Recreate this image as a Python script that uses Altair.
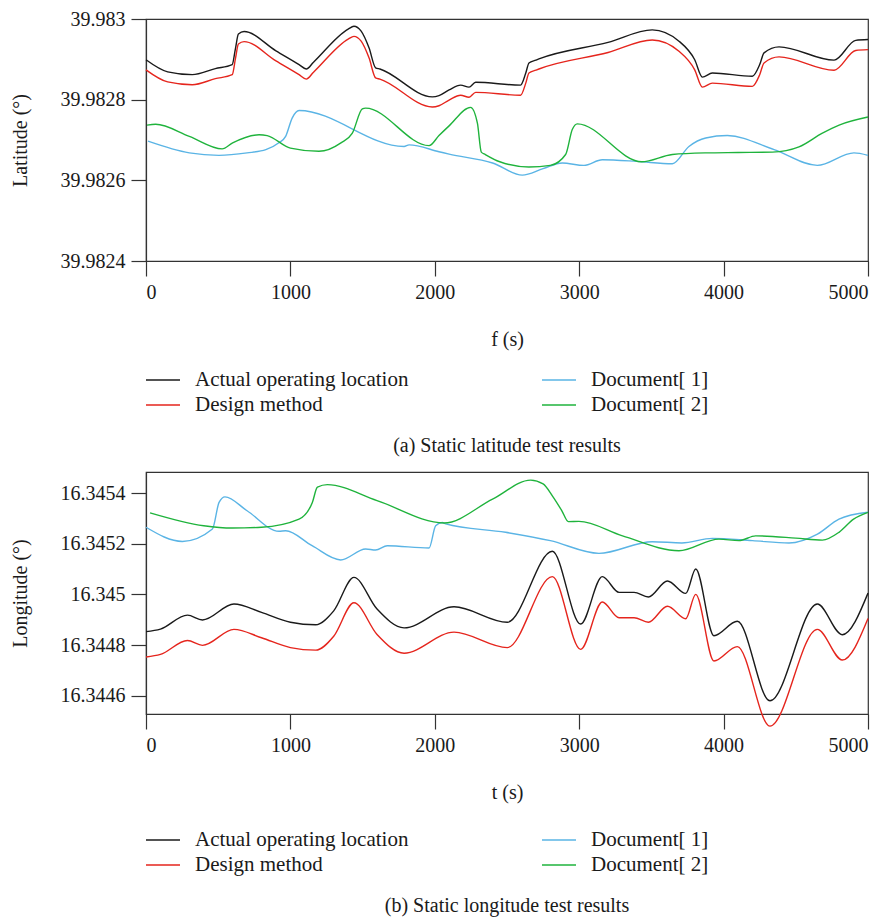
import altair as alt
import pandas as pd

FONT = "Liberation Serif"

SERIES = ["Actual operating location", "Design method", "Document[ 1]", "Document[ 2]"]
LEGEND_ORDER = ["Actual operating location", "Document[ 1]", "Design method", "Document[ 2]"]
COLORS = {"Actual operating location": "#1a1a1a", "Design method": "#e5251d",
          "Document[ 1]": "#5ab4e5", "Document[ 2]": "#1fb33c"}

# ---------------- (a) latitude ----------------
LAT_ACT_T = [0, 150, 320, 480, 597, 620, 640, 679, 900, 1060, 1110, 1160, 1400, 1440, 1490,
             1545, 1590, 1620, 1983, 2029, 2099, 2179, 2237, 2283, 2594, 2630, 2652, 2700,
             2721, 3200, 3506, 3691, 3800, 3853, 3922, 4199, 4250, 4280, 4384, 4765, 4915, 5000]
LAT_ACT_V = [39.982899, 39.982869, 39.982862, 39.982877, 39.982887, 39.982928, 39.982963,
             39.982969, 39.982921, 39.982887, 39.982876, 39.982893, 39.982975, 39.982982,
             39.982970, 39.982928, 39.982879, 39.982876, 39.982807, 39.982810, 39.982824,
             39.982836, 39.982831, 39.982843, 39.982836, 39.982866, 39.982891, 39.982898,
             39.982901, 39.982942, 39.982973, 39.982945, 39.982899, 39.982856, 39.982866,
             39.982858, 39.982887, 39.982916, 39.982931, 39.982898, 39.982947, 39.982949]
LAT_DES_T = LAT_ACT_T
LAT_DES_V = [39.982874, 39.982844, 39.982837, 39.982852, 39.982862, 39.982903, 39.982938,
             39.982944, 39.982896, 39.982862, 39.982851, 39.982868, 39.982950, 39.982957,
             39.982945, 39.982903, 39.982854, 39.982851, 39.982782, 39.982785, 39.982799,
             39.982811, 39.982806, 39.982818, 39.982811, 39.982841, 39.982866, 39.982873,
             39.982876, 39.982917, 39.982948, 39.982920, 39.982874, 39.982831, 39.982841,
             39.982833, 39.982862, 39.982891, 39.982906, 39.982873, 39.982922, 39.982924]
LAT_D1_T = [14, 300, 505, 700, 830, 920, 967, 1013, 1060, 1787, 1822, 2029, 2099, 2400, 2606,
            2750, 2883, 3033, 3160, 3400, 3645, 3760, 3876, 4026, 4350, 4649, 4903, 5000]
LAT_D1_V = [39.982697, 39.982668, 39.982662, 39.982668, 39.982676, 39.982693, 39.982709,
            39.982755, 39.982773, 39.982684, 39.982688, 39.982671, 39.982665, 39.982643,
            39.982613, 39.982629, 39.982643, 39.982637, 39.982651, 39.982647, 39.982641,
            39.982684, 39.982705, 39.982711, 39.982676, 39.982637, 39.982668, 39.982662]
LAT_D2_T = [7, 67, 300, 527, 600, 783, 839, 1000, 1198, 1350, 1429, 1498, 1521, 1960, 2029,
            2099, 2248, 2295, 2322, 2350, 2450, 2652, 2800, 2906, 2952, 2987, 3433, 3645,
            3876, 4100, 4338, 4522, 4684, 4800, 5000]
LAT_D2_V = [39.982737, 39.982739, 39.982709, 39.982678, 39.982693, 39.982713, 39.982711,
            39.982680, 39.982672, 39.982693, 39.982717, 39.982777, 39.982779, 39.982686,
            39.982711, 39.982735, 39.982781, 39.982742, 39.982670, 39.982664, 39.982646,
            39.982633, 39.982637, 39.982664, 39.982726, 39.982740, 39.982646, 39.982664,
            39.982668, 39.982669, 39.982670, 39.982683, 39.982717, 39.982737, 39.982757]

# ---------------- (b) longitude ----------------
LON_ACT_T = [0, 100, 287, 391, 609, 800, 1000, 1175, 1300, 1440, 1600, 1787, 2133, 2502,
             2814, 3010, 3160, 3276, 3380, 3479, 3611, 3738, 3807, 3933, 4095, 4321, 4649,
             4822, 5000]
LON_ACT_V = [16.344853, 16.344863, 16.344918, 16.344899, 16.344962, 16.344929, 16.344890,
             16.344880, 16.344935, 16.345067, 16.344942, 16.344868, 16.344951, 16.344890,
             16.345170, 16.344883, 16.345070, 16.345008, 16.345008, 16.344990, 16.345053,
             16.345004, 16.345100, 16.344837, 16.344894, 16.344580, 16.344962, 16.344841,
             16.345005]
LON_DES_T = LON_ACT_T
LON_DES_V = [16.344753, 16.344763, 16.344818, 16.344799, 16.344862, 16.344829, 16.344790,
             16.344780, 16.344835, 16.344967, 16.344842, 16.344768, 16.344851, 16.344790,
             16.345070, 16.344783, 16.344970, 16.344908, 16.344908, 16.344890, 16.344953,
             16.344904, 16.345000, 16.344737, 16.344794, 16.344480, 16.344862, 16.344741,
             16.344905]
LON_D1_T = [0, 252, 460, 506, 547, 700, 921, 967, 1150, 1348, 1521, 1590, 1671, 1960, 2006,
            2052, 2075, 2490, 2800, 3137, 3506, 3711, 3922, 4200, 4453, 4650, 4799, 5000]
LON_D1_V = [16.345265, 16.345209, 16.345258, 16.345363, 16.345385, 16.345330, 16.345249,
            16.345251, 16.345192, 16.345136, 16.345179, 16.345175, 16.345192, 16.345183,
            16.345271, 16.345284, 16.345278, 16.345245, 16.345212, 16.345162, 16.345208,
            16.345203, 16.345221, 16.345212, 16.345203, 16.345238, 16.345297, 16.345324]
LON_D2_T = [28, 400, 598, 800, 1060, 1152, 1187, 1256, 1600, 2064, 2400, 2664, 2750, 2814,
            2880, 2925, 2998, 3300, 3691, 3968, 4106, 4222, 4500, 4684, 4799, 4900, 5000]
LON_D2_V = [16.345322, 16.345271, 16.345262, 16.345265, 16.345297, 16.345363, 16.345423,
            16.345433, 16.345370, 16.345282, 16.345376, 16.345451, 16.345436, 16.345389,
            16.345330, 16.345287, 16.345288, 16.345231, 16.345172, 16.345218, 16.345212,
            16.345231, 16.345222, 16.345214, 16.345245, 16.345297, 16.345324]

LAT_TICKS = [39.9824, 39.9826, 39.9828, 39.983]
LON_TICKS = [16.3446, 16.3448, 16.345, 16.3452, 16.3454]
X_TICKS = [0, 1000, 2000, 3000, 4000, 5000]


def frame(parts):
    rows = []
    for name, ts, vs in parts:
        for i, (t, v) in enumerate(zip(ts, vs)):
            rows.append({"series": name, "t": t, "v": v, "i": i})
    return pd.DataFrame(rows)


df_a = frame([(SERIES[0], LAT_ACT_T, LAT_ACT_V), (SERIES[1], LAT_DES_T, LAT_DES_V),
              (SERIES[2], LAT_D1_T, LAT_D1_V), (SERIES[3], LAT_D2_T, LAT_D2_V)])
df_b = frame([(SERIES[0], LON_ACT_T, LON_ACT_V), (SERIES[1], LON_DES_T, LON_DES_V),
              (SERIES[2], LON_D1_T, LON_D1_V), (SERIES[3], LON_D2_T, LON_D2_V)])

color_scale = alt.Scale(domain=LEGEND_ORDER, range=[COLORS[s] for s in LEGEND_ORDER])


def panel(df, xtitle, ytitle, ydomain, yticks, caption, legend_y):
    return alt.Chart(df).mark_line(strokeWidth=1.4, interpolate="monotone").encode(
        x=alt.X("t:Q", scale=alt.Scale(domain=[0, 5000], nice=False, zero=False),
                axis=alt.Axis(values=X_TICKS, title=xtitle, format="d", titlePadding=27)),
        y=alt.Y("v:Q", scale=alt.Scale(domain=ydomain, nice=False, zero=False),
                axis=alt.Axis(values=yticks, title=ytitle, format=".6~g", titlePadding=30)),
        color=alt.Color("series:N", scale=color_scale,
                        legend=alt.Legend(title=None, orient="none", legendX=-1,
                                          legendY=legend_y, columns=2, direction="horizontal")),
        detail="series:N",
        order="i:Q",
    ).properties(
        width=722, height=242,
        title=alt.TitleParams(caption, orient="bottom", anchor="middle", offset=21,
                              font=FONT, fontSize=20, fontWeight="normal", color="#1a1a1a"),
    )


pa = panel(df_a, "f (s)", "Latitude (°)", [39.9824, 39.983], LAT_TICKS,
           "(a) Static latitude test results", 351)
pb = panel(df_b, "t (s)", "Longitude (°)", [16.344528, 16.345483], LON_TICKS,
           "(b) Static longitude test results", 358)

chart = alt.vconcat(pa, pb, spacing=14).resolve_scale(color="independent").resolve_legend(
    color="independent"
).properties(
    padding={"left": 1, "top": 0, "right": 0, "bottom": 0}
).configure_view(
    stroke="#333333", strokeWidth=1.2
).configure_axis(
    labelFont=FONT, titleFont=FONT, labelFontSize=20, titleFontSize=20,
    titleFontWeight="normal", labelColor="#1a1a1a", titleColor="#1a1a1a",
    grid=False, tickSize=15, domainColor="#333333", tickColor="#333333",
    domainWidth=1.2, tickWidth=1.2, labelPadding=6,
).configure_legend(
    labelFont=FONT, labelFontSize=21, labelColor="#1a1a1a", symbolType="stroke",
    symbolSize=1156, symbolStrokeWidth=1.5, labelOffset=14, rowPadding=4,
    columnPadding=132, clipHeight=20, labelLimit=400,
)

chart.save("out.html", embed_options={"renderer": "svg", "actions": False})
